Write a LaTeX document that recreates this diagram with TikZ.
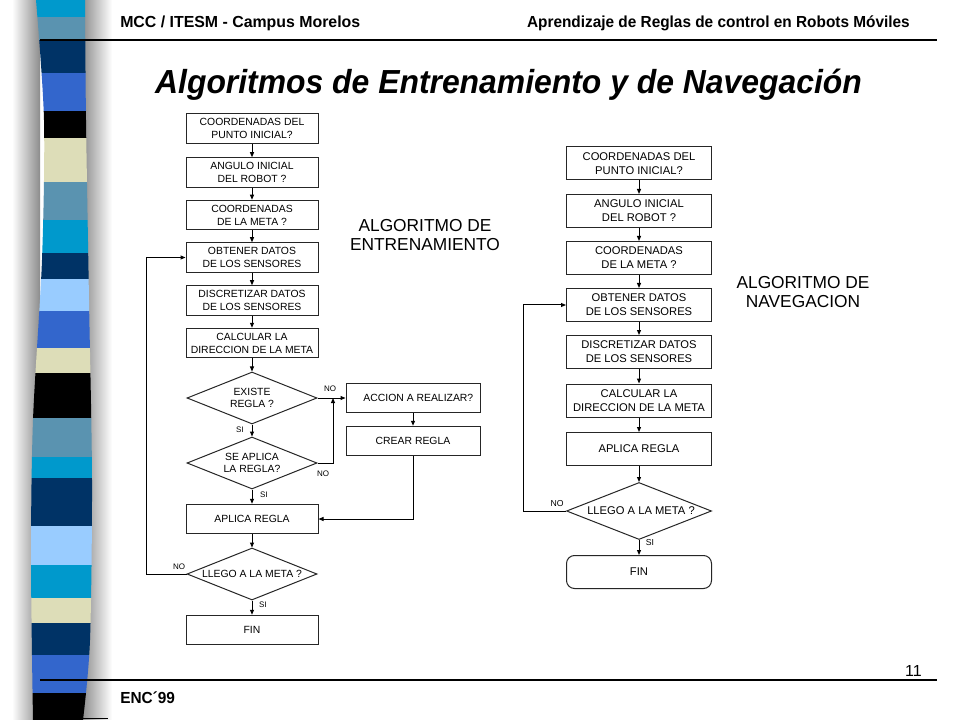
\documentclass[tikz,border=0pt]{standalone}
\usepackage{fontspec}
\setmainfont{Liberation Sans}
\usetikzlibrary{shapes.geometric,arrows.meta}
\definecolor{scyan}{HTML}{0099CC}
\definecolor{ssteel}{HTML}{5A93B0}
\definecolor{snavy}{HTML}{003366}
\definecolor{sroyal}{HTML}{3366CC}
\definecolor{sbeige}{HTML}{DDDDB8}
\definecolor{slight}{HTML}{99CCFF}
\begin{document}
\begin{tikzpicture}[x=0.75pt,y=-0.75pt,
  lbox/.style={draw=black!85, line width=0.75pt, minimum width=132*0.75pt, minimum height=29.5*0.75pt, inner sep=0pt, align=center, font=\fontsize{7.8pt}{9.75pt}\selectfont},
  rbox/.style={draw=black!85, line width=0.75pt, minimum width=145*0.75pt, minimum height=33*0.75pt, inner sep=0pt, align=center, font=\fontsize{8.4pt}{10.5pt}\selectfont},
  ldia/.style={draw=black!85, line width=0.75pt, diamond, minimum width=130*0.75pt, minimum height=52*0.75pt, inner sep=0pt},
  rdia/.style={draw=black!85, line width=0.75pt, diamond, minimum width=145*0.75pt, minimum height=57*0.75pt, inner sep=0pt},
  ltxt/.style={align=center, inner sep=0pt, font=\fontsize{7.8pt}{9pt}\selectfont},
  rtxt/.style={align=center, inner sep=0pt, font=\fontsize{8.4pt}{10pt}\selectfont},
  arr/.style={-{Triangle[length=3.75pt,width=3pt]}, line width=0.75pt},
  lab/.style={inner sep=0pt, font=\fontsize{6pt}{7pt}\selectfont},
  rlab/.style={inner sep=0pt, font=\fontsize{6.5pt}{7.5pt}\selectfont},
  big/.style={align=center, inner sep=0pt, font=\fontsize{13pt}{14.25pt}\selectfont},
]
\useasboundingbox (0,0) rectangle (960,720);
\fill[white] (0,0) rectangle (960,720);
% left decorative stripe
\fill[left color=white, right color=black!45] (12,0) rectangle (40,720);
\fill[left color=black!45, right color=white] (82,0) rectangle (112,720);
\begin{scope}
\clip plot[smooth] coordinates {(36,0) (44,120) (42,260) (33,420) (31,560) (33,720)} -- plot[smooth] coordinates {(83,720) (90,640) (92,480) (89,300) (86,120) (85,0)} -- cycle;
\foreach \a/\b/\c in {0/17/scyan, 17/40/ssteel, 40/73/snavy, 73/111/sroyal, 111/138/black, 138/182/sbeige, 182/220/ssteel, 220/253/scyan, 253/279/snavy, 279/311/slight, 311/348/sroyal, 348/373/sbeige, 373/418/black, 418/457/ssteel, 457/478/scyan, 478/526/snavy, 526/565/slight, 565/598/scyan, 598/623/sbeige, 623/655/snavy, 655/693/sroyal, 693/720/black}
  \fill[\c] (20,\a) rectangle (100,\b);
\end{scope}
% header and footer
\draw[line width=0.9pt] (40,40) -- (937,40);
\draw[line width=0.9pt] (40,680) -- (937,680);
\draw[line width=0.75pt] (80,718) -- (108,718);
\node[anchor=base west, inner sep=0pt, font=\fontsize{12pt}{14pt}\selectfont\bfseries] (hl) at (120,28) {\resizebox{180pt}{\height}{MCC / ITESM - Campus Morelos}};
\node[anchor=base east, inner sep=0pt, font=\fontsize{12pt}{14pt}\selectfont\bfseries] (hr) at (910,28) {\resizebox{287pt}{\height}{Aprendizaje de Reglas de control en Robots Móviles}};
\node[anchor=base, inner sep=0pt, font=\fontsize{25pt}{30pt}\selectfont\bfseries\itshape] (title) at (508.5,94) {\resizebox{530pt}{\height}{Algoritmos de Entrenamiento y de Navegación}};
\node[anchor=base east, inner sep=0pt, font=\fontsize{12pt}{14pt}\selectfont] (pg) at (922,676) {11};
\node[anchor=base west, inner sep=0pt, font=\fontsize{12pt}{14pt}\selectfont\bfseries] (enc) at (120,703) {\resizebox{41pt}{\height}{ENC´99}};
\node[big] (t1) at (425,235.5) {ALGORITMO DE\\ENTRENAMIENTO};
\node[big] (t2) at (803,292) {ALGORITMO DE\\NAVEGACION};
% left flowchart
\node[lbox] (l1) at (252,128.5) {COORDENADAS DEL\\PUNTO INICIAL?};
\node[lbox] (l2) at (252,172.5) {ANGULO INICIAL\\DEL ROBOT ?};
\node[lbox] (l3) at (252,215) {COORDENADAS\\DE LA META ?};
\node[lbox] (l4) at (252,257.5) {OBTENER DATOS\\DE LOS SENSORES};
\node[lbox] (l5) at (252,300.5) {DISCRETIZAR DATOS\\DE LOS SENSORES};
\node[lbox] (l6) at (252,343) {CALCULAR LA\\DIRECCION DE LA META};
\node[ldia] (ld1) at (252,398) {};
\node[ltxt] (ld1t) at (ld1) {EXISTE\\REGLA ?};
\node[ldia] (ld2) at (252,463) {};
\node[ltxt] (ld2t) at (ld2) {SE APLICA\\LA REGLA?};
\node[lbox] (l7) at (252,519) {APLICA REGLA};
\node[ldia] (ld3) at (252,574) {};
\node[ltxt] (ld3t) at (ld3) {LLEGO A LA META ?};
\node[lbox] (lfin) at (252,630) {FIN};
\node[lbox, minimum width=134*0.75pt] (acc) at (413,398) {\hspace*{8pt}ACCION A REALIZAR?};
\node[lbox, minimum width=134*0.75pt] (crear) at (413,441) {CREAR REGLA};
\coordinate (j) at (333,398);
\coordinate (ll) at (146,574);
\draw[arr] (l1) -- (l2);
\draw[arr] (l2) -- (l3);
\draw[arr] (l3) -- (l4);
\draw[arr] (l4) -- (l5);
\draw[arr] (l5) -- (l6);
\draw[arr] (l6) -- (ld1);
\draw[arr] (ld1) -- (ld2);
\draw[arr] (ld2) -- (l7);
\draw[arr] (l7) -- (ld3);
\draw[arr] (ld3) -- (lfin);
\draw[arr] (ld1.east) -- (acc.west);
\draw[arr] (ld2.east) -| (j);
\draw[arr] (acc) -- (crear);
\draw[arr] (crear.south) |- (l7.east);
\draw[arr] (ld3.west) -- (ll) |- (l4.west);
\node[lab] (no1) at (330,389) {NO};
\node[lab] (no2) at (323,474) {NO};
\node[lab] (si1) at (240,430) {SI};
\node[lab] (si2) at (264,495) {SI};
\node[lab] (si3) at (263,605) {SI};
\node[lab] (no3) at (179,567) {NO};
% right flowchart
\node[rbox] (r1) at (639,163.5) {COORDENADAS DEL\\PUNTO INICIAL?};
\node[rbox] (r2) at (639,211) {ANGULO INICIAL\\DEL ROBOT ?};
\node[rbox] (r3) at (639,258) {COORDENADAS\\DE LA META ?};
\node[rbox] (r4) at (639,305) {OBTENER DATOS\\DE LOS SENSORES};
\node[rbox] (r5) at (639,352) {DISCRETIZAR DATOS\\DE LOS SENSORES};
\node[rbox] (r6) at (639,400.5) {CALCULAR LA\\DIRECCION DE LA META};
\node[rbox] (r7) at (639,449) {APLICA REGLA};
\node[rdia] (rd) at (639,511) {};
\node[rtxt] (rdt) at (641,511) {LLEGO A LA META ?};
\node[rbox, rounded corners=6pt] (rfin) at (639,572) {FIN};
\coordinate (rl) at (523,511);
\draw[arr] (r1) -- (r2);
\draw[arr] (r2) -- (r3);
\draw[arr] (r3) -- (r4);
\draw[arr] (r4) -- (r5);
\draw[arr] (r5) -- (r6);
\draw[arr] (r6) -- (r7);
\draw[arr] (r7) -- (rd);
\draw[arr] (rd) -- (rfin);
\draw[arr] (rd.west) -- (rl) |- (r4.west);
\node[rlab] (rno) at (557,504) {NO};
\node[rlab] (rsi) at (650,543) {SI};
\end{tikzpicture}
\end{document}
